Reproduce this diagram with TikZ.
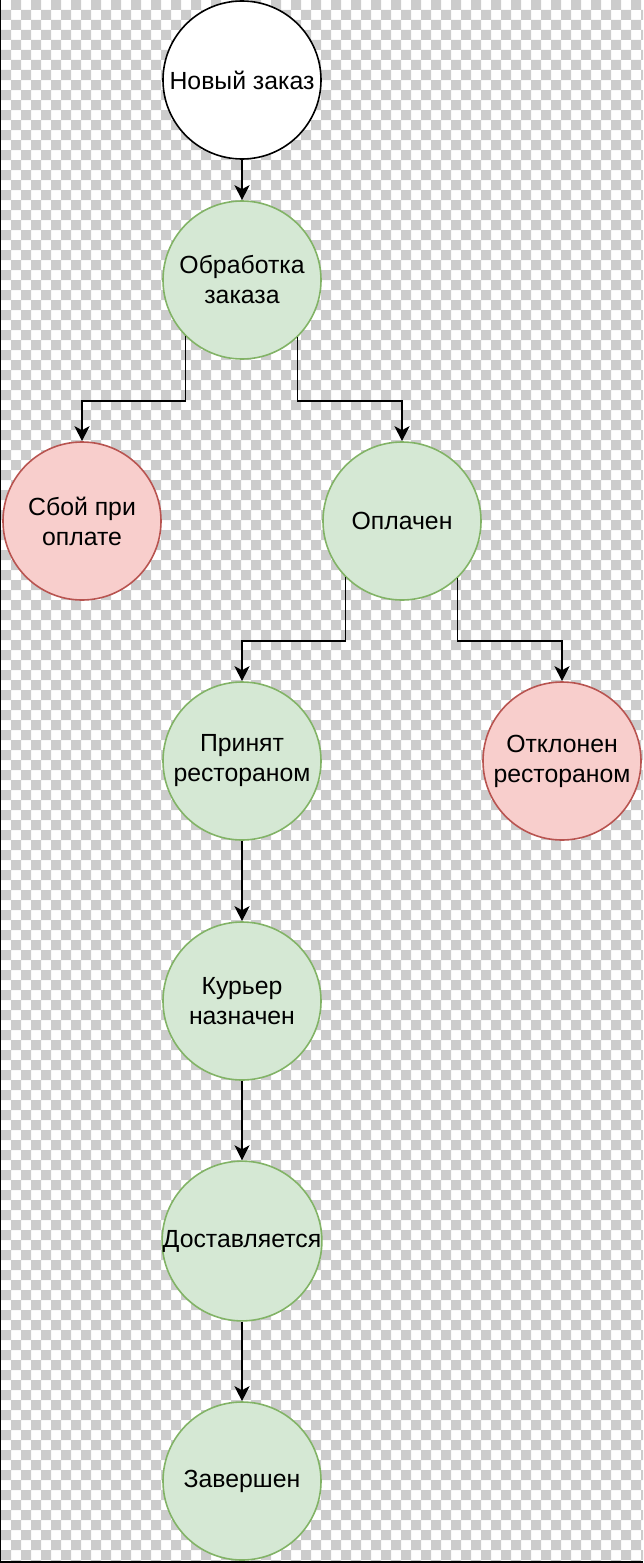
\documentclass[tikz,border=0pt]{standalone}
\usepackage{fontspec}
\setmainfont{Liberation Sans}
\usetikzlibrary{arrows.meta}
\definecolor{gfill}{HTML}{D5E8D4}
\definecolor{gdraw}{HTML}{82B366}
\definecolor{rfill}{HTML}{F8CECC}
\definecolor{rdraw}{HTML}{B85450}
\definecolor{checker}{HTML}{CCCCCC}
\tikzset{
  state/.style={circle, minimum size=158pt, inner sep=0pt, line width=1.6pt, align=center,
    font=\fontsize{24.8}{30}\selectfont},
  okstate/.style={state, fill=gfill, draw=gdraw},
  badstate/.style={state, fill=rfill, draw=rdraw},
  startstate/.style={state, fill=white, draw=black},
  arr/.style={line width=1.8pt, -{Stealth[length=15pt,width=15pt,inset=4pt]}},
}
\begin{document}
\begin{tikzpicture}[x=1pt,y=-1pt]
\useasboundingbox (0,0) rectangle (643,1563);
\begin{scope}
\clip (0,0) rectangle (643,1563);
\fill[checker] \foreach \j in {0,2,...,156} {\foreach \m in {0,...,31} {(11+20*\m,10*\j) rectangle ++(10,10)}};
\fill[checker] \foreach \j in {1,3,...,155} {\foreach \m in {0,...,32} {(1+20*\m,10*\j) rectangle ++(10,10)}};
\end{scope}
\fill[black] (0,0) rectangle (1.2,1563);
\fill[black] (0,1561) rectangle (643,1563);

\node[startstate] (new) at (242,80) {Новый заказ};
\node[okstate] (obr) at (242,280) {Обработка\\заказа};
\node[badstate] (fail) at (82,521) {Сбой при\\оплате};
\node[okstate] (paid) at (402,521) {Оплачен};
\node[okstate] (acc) at (242,761) {Принят\\рестораном};
\node[badstate] (rej) at (562,761) {Отклонен\\рестораном};
\node[okstate] (cour) at (242,1001) {Курьер\\назначен};
\node[okstate] (deliv) at (242,1241) {Доставляется};
\node[okstate] (done) at (242,1481) {Завершен};

\draw[arr] (new) -- (obr);
\draw[arr] (obr.225.6) |- ([yshift=40pt]fail.north) -- (fail.north);
\draw[arr] (obr.314.4) |- ([yshift=40pt]paid.north) -- (paid.north);
\draw[arr] (paid.225.6) |- ([yshift=40pt]acc.north) -- (acc.north);
\draw[arr] (paid.314.4) |- ([yshift=40pt]rej.north) -- (rej.north);
\draw[arr] (acc) -- (cour);
\draw[arr] (cour) -- (deliv);
\draw[arr] (deliv) -- (done);
\end{tikzpicture}
\end{document}
